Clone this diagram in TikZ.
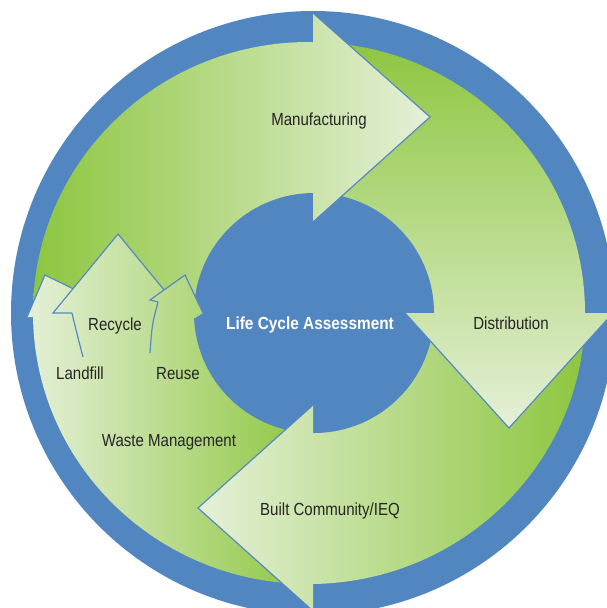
\documentclass[tikz,border=0pt]{standalone}
\usepackage{fontspec}
\newfontfamily\condsans[FakeStretch=0.86]{Liberation Sans}
\newfontfamily\condbold[FakeStretch=0.88]{Liberation Sans}
\definecolor{ringblue}{RGB}{82,134,192}
\definecolor{deepgreen}{RGB}{141,198,63}
\definecolor{palegreen}{RGB}{229,240,216}
\definecolor{edgeblue}{RGB}{88,136,196}
\definecolor{labelgray}{RGB}{38,36,36}
\tikzset{
  headedge/.style={draw=edgeblue, line width=1.2pt, line join=miter},
  stemline/.style={draw=edgeblue, line width=1.2pt},
  lbl/.style={text=labelgray, font=\condsans\fontsize{17.5}{21}\selectfont, anchor=base, inner sep=0pt},
  centerlbl/.style={text=white, font=\condbold\bfseries\fontsize{17.5}{21}\selectfont, anchor=base, inner sep=0pt},
  manushade/.style={left color=deepgreen, right color=palegreen},
  distshade/.style={top color=deepgreen, bottom color=palegreen},
  builtshade/.style={left color=palegreen, right color=deepgreen},
  wasteshade/.style={left color=palegreen, right color=deepgreen},
}
\begin{document}
\begin{tikzpicture}[x=1pt,y=-1pt]
\useasboundingbox (0,0) rectangle (607,608);
\fill[white] (0,0) rectangle (607,608);
% outer blue disc
\fill[ringblue] (313,313) circle[radius=302];

% ---- arrow bodies (quadrants of the green ring)
\begin{scope}
  \clip (309,313) ellipse[x radius=276, y radius=271];
  \clip (0,0) rectangle (313,313);
  \shade[manushade] (33,0) rectangle (430,320);
\end{scope}
\begin{scope}
  \clip (309,313) ellipse[x radius=276, y radius=271];
  \clip (313,0) rectangle (620,313);
  \shade[distshade] (300,42) rectangle (620,428);
\end{scope}
\begin{scope}
  \clip (309,313) ellipse[x radius=276, y radius=271];
  \clip (313,313) rectangle (620,620);
  \shade[builtshade] (198,300) rectangle (585,620);
\end{scope}
\begin{scope}
  \clip (309,313) ellipse[x radius=276, y radius=271];
  \clip (0,313) rectangle (313,620);
  \shade[wasteshade] (27,200) rectangle (311,620);
\end{scope}

% inner blue disc
\fill[ringblue] (314,313) circle[radius=120];

% ---- arrow heads
% Manufacturing
\begin{scope}
  \clip (313,13) -- (430,117) -- (313,222) -- cycle;
  \shade[manushade] (33,0) rectangle (430,320);
\end{scope}
\draw[headedge] (313,13) -- (430,117) -- (313,222);
% Distribution
\begin{scope}
  \clip (405,313) -- (509,428) -- (613,313) -- cycle;
  \shade[distshade] (300,42) rectangle (620,428);
\end{scope}
\draw[headedge] (405,313) -- (509,428) -- (613,313);
% Built Community
\begin{scope}
  \clip (313,405) -- (198,508) -- (313,611) -- cycle;
  \shade[builtshade] (198,300) rectangle (585,620);
\end{scope}
\draw[headedge] (313,405) -- (198,508) -- (313,611);
% Landfill
\begin{scope}
  \clip (27,317) -- (45,275) -- (90,297) -- (90,318) -- cycle;
  \shade[wasteshade] (27,200) rectangle (311,620);
\end{scope}
\draw[headedge] (27,317) -- (45,275) -- (90,297);
% Recycle
\begin{scope}
  \clip (53,313) -- (118,234) -- (183,313) -- cycle;
  \shade[wasteshade] (27,200) rectangle (311,620);
\end{scope}
\draw[headedge] (72,313) -- (53,313) -- (118,234) -- (183,313);
% Reuse
\begin{scope}
  \clip (158,302) -- (150,300) -- (185,275) -- (203,313) -- (195,318) -- (158,318) -- cycle;
  \shade[wasteshade] (27,200) rectangle (311,620);
\end{scope}
\draw[headedge] (158,302) -- (150,300) -- (185,275) -- (203,313);

% stems separating the waste streams
\draw[stemline] (72,313) .. controls (76,330) .. (83,357);
\draw[stemline] (158,302) .. controls (152,325) .. (150,353);

% ---- labels
\node[lbl] (manu) at (319,125) {Manufacturing};
\node[lbl] (dist) at (511,329) {Distribution};
\node[centerlbl] (lca) at (310,329) {Life Cycle Assessment};
\node[lbl] (built) at (330,515) {Built Community/IEQ};
\node[lbl] (waste) at (169,446) {Waste Management};
\node[lbl] (recy) at (115,330) {Recycle};
\node[lbl] (land) at (80,379) {Landfill};
\node[lbl] (reuse) at (178,379) {Reuse};
\end{tikzpicture}
\end{document}
